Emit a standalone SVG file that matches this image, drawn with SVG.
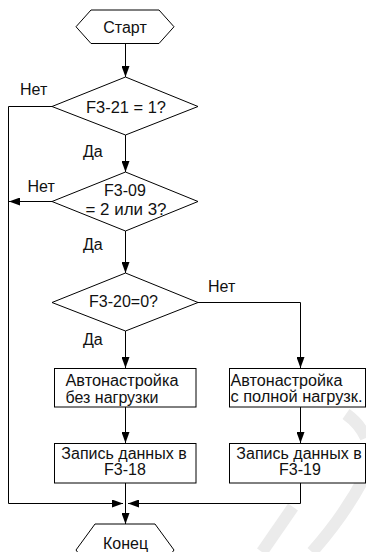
<svg xmlns="http://www.w3.org/2000/svg" width="366" height="552" viewBox="0 0 366 552">
<defs>
<style>
.s{fill:#fff;stroke:#000;stroke-width:1}
.c{fill:none;stroke:#000;stroke-width:1}
.t{font-family:"Liberation Sans",Arial,sans-serif;font-size:16px;fill:#111}
.m{text-anchor:middle}
.w{fill:none;stroke:#ebebeb;stroke-width:12;stroke-linecap:butt}
</style>
<marker id="a" markerUnits="userSpaceOnUse" markerWidth="11" markerHeight="8" refX="11" refY="4" orient="auto">
<path d="M0,0 L11,4 L0,8 z" fill="#000"/>
</marker>
</defs>
<rect width="366" height="552" fill="#fff"/>
<g id="watermark">
<path class="w" d="M346 414 Q360 424 366 438"/>
<path class="w" d="M293 507 L262 552"/>
<path class="w" d="M366 474 Q345 515 312 552"/>
</g>
<g id="connectors">
<path class="c" d="M125.5 43.5 V77" marker-end="url(#a)"/>
<path class="c" d="M125.5 135 V172" marker-end="url(#a)"/>
<path class="c" d="M125.5 231 V273" marker-end="url(#a)"/>
<path class="c" d="M125.5 331 V368" marker-end="url(#a)"/>
<path class="c" d="M198 302.5 H300.5 V368" marker-end="url(#a)"/>
<path class="c" d="M125.5 407 V443" marker-end="url(#a)"/>
<path class="c" d="M300.5 407 V443" marker-end="url(#a)"/>
<path class="c" d="M52 106.5 H8.5 V503.5 H123" marker-end="url(#a)"/>
<path class="c" d="M52 201.5 H9" marker-end="url(#a)"/>
<path class="c" d="M300.5 483 V503.5 H128" marker-end="url(#a)"/>
<path class="c" d="M125.5 483 V524" marker-end="url(#a)"/>
</g>
<g id="start">
<polygon class="s" points="76,26.75 91,10 159,10 174,26.75 159,43.5 91,43.5"/>
<text class="t m" x="125" y="32.5">Старт</text>
</g>
<g id="d1">
<polygon class="s" points="125.5,77 198,106.5 125.5,135 52,106.5"/>
<text class="t m" x="126" y="112.5" textLength="80" lengthAdjust="spacingAndGlyphs">F3-21 = 1?</text>
</g>
<g id="d2">
<polygon class="s" points="125.5,172 198,201.5 125.5,231 52,201.5"/>
<text class="t m" x="125" y="196">F3-09</text>
<text class="t m" x="126" y="215" textLength="81" lengthAdjust="spacingAndGlyphs">= 2 или 3?</text>
</g>
<g id="d3">
<polygon class="s" points="125.5,273 198,302.5 125.5,331 52,302.5"/>
<text class="t m" x="123.5" y="307">F3-20=0?</text>
</g>
<g id="b1">
<rect class="s" x="54.5" y="368.5" width="141.5" height="38.5"/>
<text class="t" x="65.5" y="386" textLength="113" lengthAdjust="spacingAndGlyphs">Автонастройка</text>
<text class="t" x="65.5" y="402.5">без нагрузки</text>
</g>
<g id="b2">
<rect class="s" x="229.5" y="368.5" width="136" height="38.5"/>
<text class="t" x="230.5" y="386" textLength="112" lengthAdjust="spacingAndGlyphs">Автонастройка</text>
<text class="t" x="230.5" y="402" textLength="132" lengthAdjust="spacingAndGlyphs">с полной нагрузк.</text>
</g>
<g id="b3">
<rect class="s" x="54.5" y="443.5" width="141.5" height="39.5"/>
<text class="t m" x="124" y="458.5">Запись данных в</text>
<text class="t m" x="125" y="474.5">F3-18</text>
</g>
<g id="b4">
<rect class="s" x="229.5" y="443.5" width="136" height="39.5"/>
<text class="t m" x="299" y="458.5">Запись данных в</text>
<text class="t m" x="300" y="474.5">F3-19</text>
</g>
<g id="end">
<polygon class="s" points="76,550 95,524 155,524 174,550 155,576 95,576"/>
<text class="t m" x="125.5" y="549">Конец</text>
</g>
<g id="labels">
<text class="t" x="20" y="95">Нет</text>
<text class="t" x="83" y="156.5">Да</text>
<text class="t" x="27.5" y="192">Нет</text>
<text class="t" x="83" y="250">Да</text>
<text class="t" x="208" y="292">Нет</text>
<text class="t" x="83" y="345">Да</text>
</g>
</svg>
